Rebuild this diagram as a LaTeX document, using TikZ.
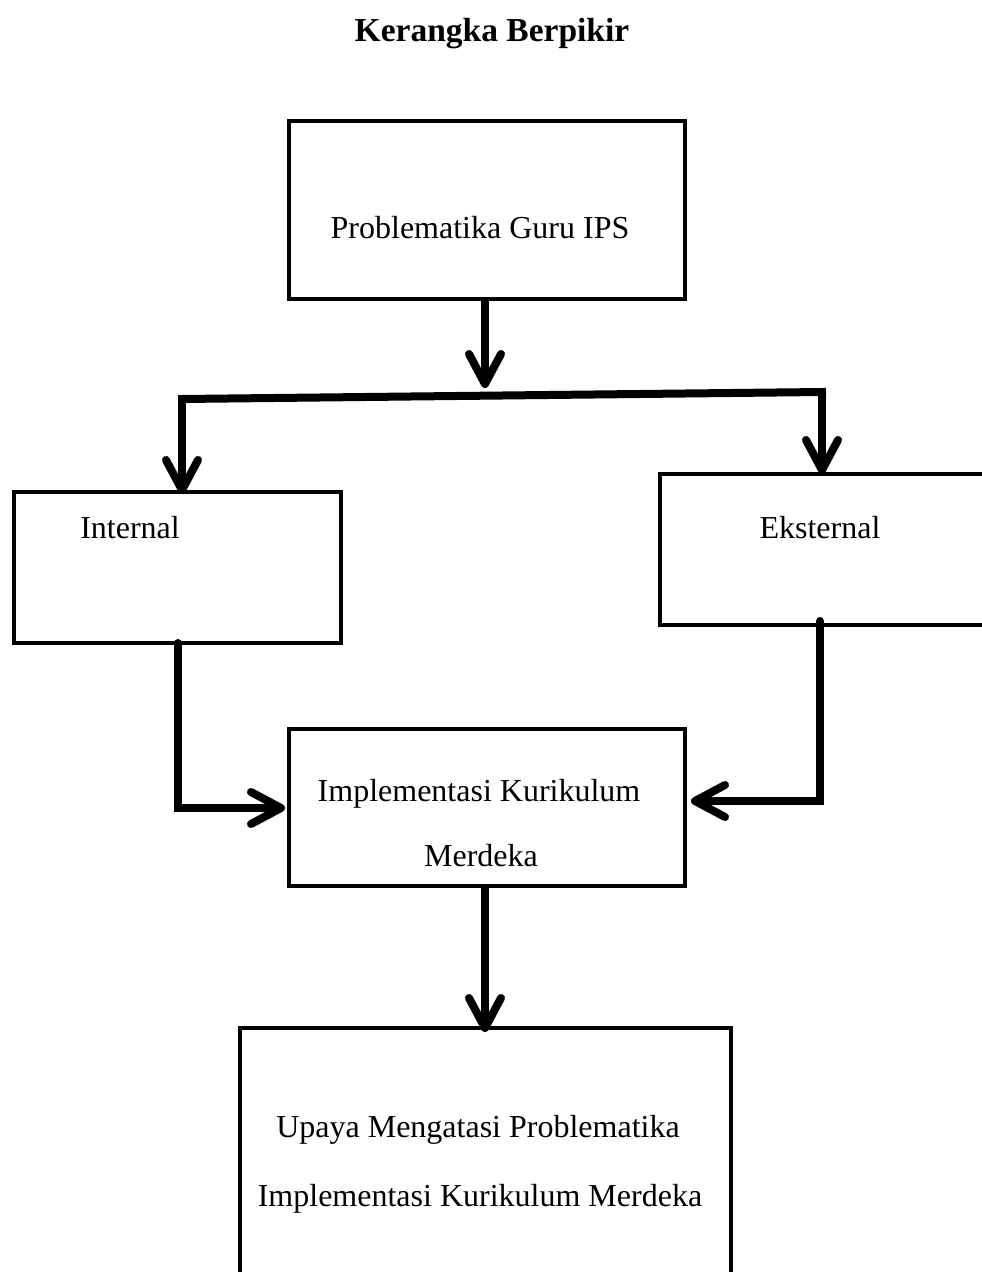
\documentclass[tikz,border=0pt]{standalone}
\usepackage{fontspec}
\setmainfont{Liberation Serif}
\usetikzlibrary{arrows.meta,calc}
\begin{document}
\begin{tikzpicture}[x=1pt,y=-1pt,
  box/.style={draw=black,line width=4pt,rectangle,inner sep=0pt,fill=none},
  txt/.style={font=\fontsize{32}{38}\selectfont,anchor=base,inner sep=0pt},
  arr/.style={line width=8pt,line cap=round,-{Straight Barb[length=30pt,width=32pt,round]}},
  ln/.style={line width=8pt,line cap=rect}]
\useasboundingbox (0,0) rectangle (982,1272);
\clip (0,0) rectangle (982,1272);
\fill[white] (0,0) rectangle (982,1272);
% title
\node[txt,font=\fontsize{33.5}{38}\selectfont\bfseries] (title) at (492,41) {Kerangka Berpikir};
% boxes
\node[box,minimum width=396pt,minimum height=178pt] (top) at (487,210) {};
\node[box,minimum width=327pt,minimum height=151pt] (int) at (177.5,567.5) {};
\node[box,minimum width=360pt,minimum height=151pt] (ext) at (840,549.5) {};
\node[box,minimum width=396pt,minimum height=157pt] (mid) at (487,807.5) {};
\node[box,minimum width=491pt,minimum height=300pt] (bot) at (485.5,1178) {};
% texts
\node[txt] (t1) at (480,238) {Problematika Guru IPS};
\node[txt] (t2) at (130,538) {Internal};
\node[txt] (t3) at (820,538) {Eksternal};
\node[txt] (t4) at (479,801) {Implementasi Kurikulum};
\node[txt] (t5) at (481,866) {Merdeka};
\node[txt] (t6) at (478,1137) {Upaya Mengatasi Problematika};
\node[txt] (t7) at (480,1206) {Implementasi Kurikulum Merdeka};
% junction coordinates
\coordinate (jm) at (485,388);
\coordinate (jl) at (182,399);
\coordinate (jr) at (822,392);
\coordinate (il) at (178,808);
\coordinate (er) at (820,801);
% connectors
\draw[arr] (top.south -| jm) -- (jm);
\draw[ln] (jl) -- (jr);
\draw[arr] (jl) -- ([yshift=-4pt]jl |- int.north);
\draw[arr] (jr) -- ([yshift=-2pt]jr |- ext.north);
\draw[arr] ([yshift=2pt]il |- int.south) -- (il) -- ([xshift=-2pt]mid.west |- il);
\draw[arr] ([yshift=6pt]er |- ext.south) -- (er) -- ([xshift=4pt]mid.east |- er);
\draw[arr] (mid.south -| jm) -- ([yshift=-6pt]jm |- bot.north);
\end{tikzpicture}
\end{document}
